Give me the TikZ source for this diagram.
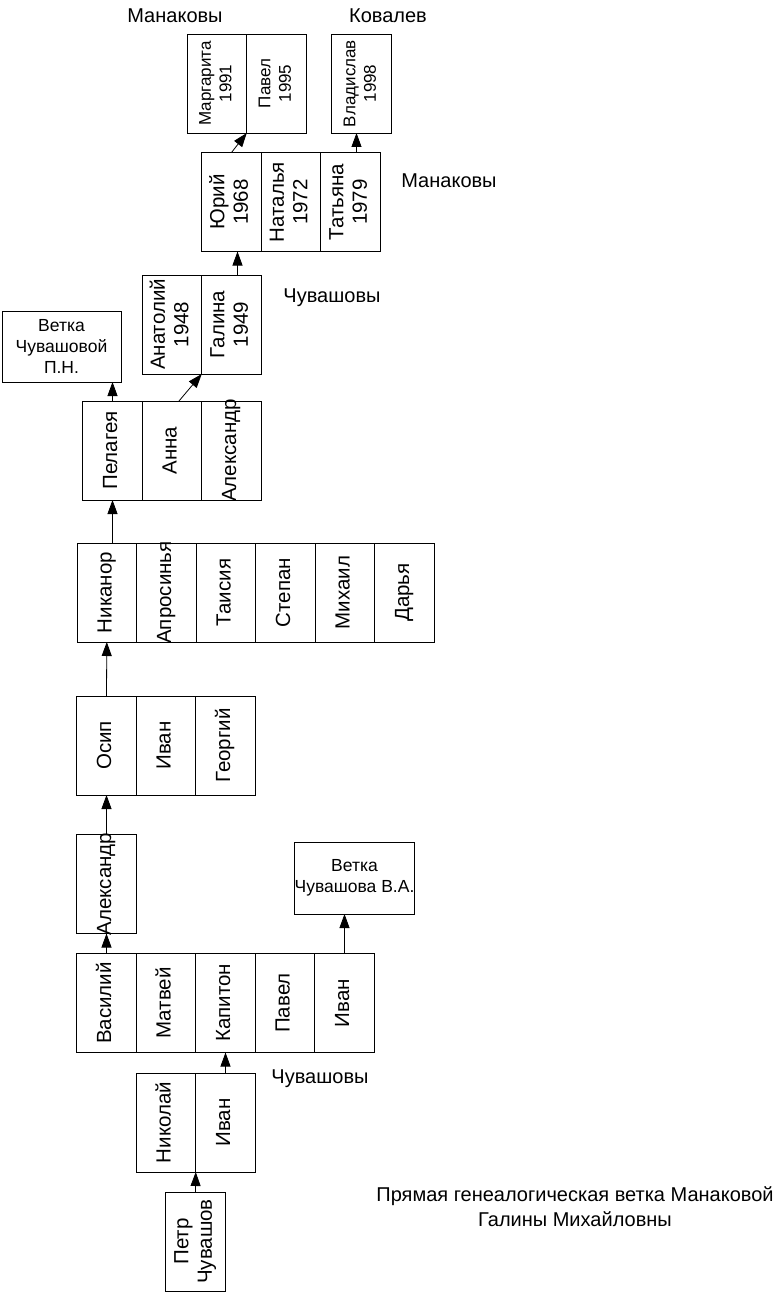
\documentclass[tikz,border=0pt]{standalone}
\usepackage{fontspec}
\setmainfont{Liberation Sans}
\usepackage{graphicx}
\usepackage{tikz}
\usetikzlibrary{arrows.meta,positioning,calc}
\newcommand{\vcell}[1]{\raisebox{-.5\height}[0pt][0pt]{\rotatebox{90}{\begin{tabular}{@{}c@{}}#1\end{tabular}}}}

\begin{document}
\begin{tikzpicture}[x=1pt,y=-1pt,
  cell/.style={draw,line width=0.9pt,minimum width=59.5pt,minimum height=99pt,inner sep=0pt,outer sep=0pt,font=\fontsize{20.5}{23.5}\selectfont},
  small/.style={font=\fontsize{17}{20.5}\selectfont},
  branch/.style={draw,line width=0.9pt,minimum width=119pt,inner sep=0pt,outer sep=0pt,align=center,font=\fontsize{17.5}{21}\selectfont},
  family/.style={font=\fontsize{20}{25}\selectfont},
  conn/.style={line width=0.8pt,-{Triangle[length=14pt,width=10pt]}}]
  \useasboundingbox (0,0) rectangle (773,1292);
  % grandchildren
  \node[cell,small] (marg) at (217,83.5) {\vcell{Маргарита\\1991}};
  \node[cell,small,right=0pt of marg] (pav) {\vcell{Павел\\1995}};
  \node[cell,small] (vlad) at (361.5,83.5) {\vcell{Владислав\\1998}};
  \node[family] (lmantop) at (175,16) {Манаковы};
  \node[family] (lkov) at (388,16) {Ковалев};
  % children
  \node[cell] (yuri) at (231.5,202) {\vcell{Юрий\\1968}};
  \node[cell,right=0pt of yuri] (nat) {\vcell{Наталья\\1972}};
  \node[cell,right=0pt of nat] (tat) {\vcell{Татьяна\\1979}};
  \node[family] (lmanr) at (449,181) {Манаковы};
  % Galina and brother
  \node[cell] (anat) at (172,324.5) {\vcell{Анатолий\\1948}};
  \node[cell,right=0pt of anat] (gal) {\vcell{Галина\\1949}};
  \node[family] (lchuvt) at (332,298) {Чувашовы};
  \node[branch,minimum height=71pt] (vetkap) at (61.5,346.5) {Ветка\\Чувашовой\\П.Н.};
  % Pelageya row
  \node[cell] (pel) at (112.5,450.5) {\vcell{Пелагея}};
  \node[cell,right=0pt of pel] (anna) {\vcell{Анна}};
  \node[cell,right=0pt of anna] (alexp) {\vcell{Александр}};
  % Nikanor row
  \node[cell] (nik) at (106.8,592.5) {\vcell{Никанор}};
  \node[cell,right=0pt of nik] (apr) {\vcell{Апросинья}};
  \node[cell,right=0pt of apr] (tais) {\vcell{Таисия}};
  \node[cell,right=0pt of tais] (step) {\vcell{Степан}};
  \node[cell,right=0pt of step] (mikh) {\vcell{Михаил}};
  \node[cell,right=0pt of mikh] (dar) {\vcell{Дарья}};
  % Osip row
  \node[cell] (osip) at (106.5,745.5) {\vcell{Осип}};
  \node[cell,right=0pt of osip] (ivano) {\vcell{Иван}};
  \node[cell,right=0pt of ivano] (geor) {\vcell{Георгий}};
  % Aleksandr
  \node[cell] (alexv) at (106.5,884) {\vcell{Александр}};
  % Vasiliy row
  \node[cell] (vas) at (106.5,1003) {\vcell{Василий}};
  \node[cell,right=0pt of vas] (matv) {\vcell{Матвей}};
  \node[cell,right=0pt of matv] (kap) {\vcell{Капитон}};
  \node[cell,right=0pt of kap] (pavv) {\vcell{Павел}};
  \node[cell,right=0pt of pavv] (ivanv) {\vcell{Иван}};
  \node[branch,minimum height=72pt] (vetkai) at (354.5,878) {Ветка\\Чувашова В.А.};
  % Nikolai row
  \node[cell] (nikol) at (166,1122.5) {\vcell{Николай}};
  \node[cell,right=0pt of nikol] (ivann) {\vcell{Иван}};
  \node[family] (lchuvb) at (320,1079) {Чувашовы};
  % Petr
  \node[cell] (petr) at (195.5,1241.5) {\vcell{Петр\\Чувашов}};
  \node[family,align=center] (title) at (575,1207) {Прямая генеалогическая ветка Манаковой\\Галины Михайловны};
  % links
  \draw[conn] (petr.north) -- (nikol.south east);
  \draw[conn] (ivann.north) -- (kap.south);
  \draw[conn] (vas.north) -- (alexv.south);
  \draw[conn] (ivanv.north) -- (ivanv.north |- vetkai.south);
  \draw[conn] (alexv.north) -- (osip.south);
  \draw[conn] (osip.north) -- (nik.south);
  \draw[conn] (pel.south |- nik.north) -- (pel.south);
  \draw[conn] (pel.north) -- (pel.north |- vetkap.south);
  \draw[conn] ([xshift=7pt]anna.north) -- (anat.south east);
  \draw[conn] ([xshift=6pt]gal.north) -- ([xshift=6pt]gal.north |- yuri.south);
  \draw[conn] (yuri.north) -- (marg.south east);
  \draw[conn] ([xshift=6pt]tat.north) -- ([xshift=6pt]tat.north |- vlad.south);
\end{tikzpicture}
\end{document}
